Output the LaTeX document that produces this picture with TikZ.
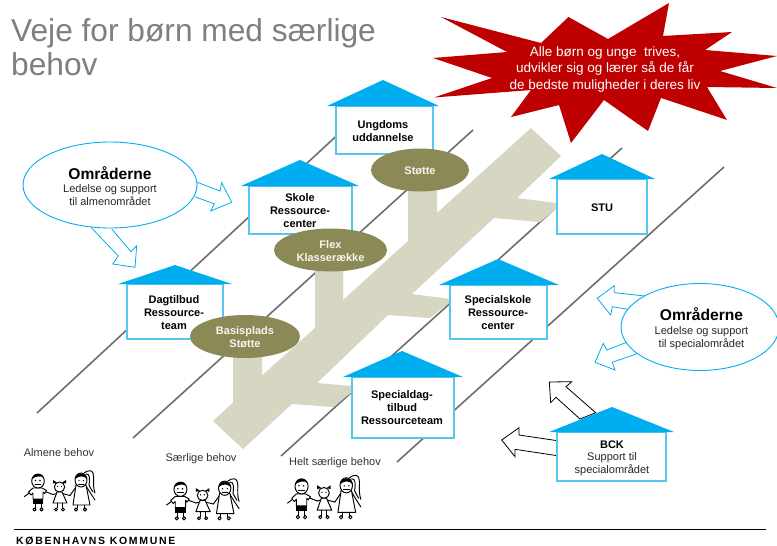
\documentclass[tikz,border=0pt]{standalone}
\usepackage{fontspec}
\setmainfont{Liberation Sans}
\usetikzlibrary{shapes.geometric}
\definecolor{roofblue}{HTML}{00AEEF}
\definecolor{wallblue}{HTML}{55C5F2}
\definecolor{olive}{HTML}{8B8A57}
\definecolor{trunk}{HTML}{D6D6C2}
\definecolor{road}{HTML}{6E6E6E}
\definecolor{starred}{HTML}{BE0000}
\definecolor{titlegray}{HTML}{7F7F7F}
\tikzset{
  road line/.style={draw=road,line width=1.6pt},
  roof/.style={fill=roofblue,draw=none},
  wall/.style={draw=wallblue,fill=white,line width=1.3pt},
  houselabel/.style={font=\bfseries\fontsize{11}{13}\selectfont,align=center,text=black,inner sep=0pt},
  oliveell/.style={ellipse,fill=olive,inner sep=0pt},
  olivelabel/.style={font=\bfseries\fontsize{11}{13}\selectfont,align=center,text=white!92!olive,inner sep=0pt},
  blockblue/.style={draw=roofblue,fill=white,line width=0.8pt,line join=miter},
  blockblack/.style={draw=black,fill=white,line width=0.8pt,line join=miter},
  area/.style={draw=roofblue,fill=white,line width=0.9pt},
  small/.style={font=\fontsize{11}{12.7}\selectfont,align=center,text=black!85,inner sep=0pt},
  big/.style={font=\bfseries\fontsize{15.6}{17}\selectfont,text=black,inner sep=0pt},
  behov/.style={font=\fontsize{11}{12}\selectfont,text=black!80,inner sep=0pt},
  kidline/.style={draw=black,line width=0.95pt,line cap=round,line join=round},
  kids/.pic={
    % boy
    \draw[kidline] (6,22.5) -- (0.5,26.5) (21,21.5) -- (29,24.5);
    \draw[kidline,fill=white] (9,18) -- (18,18) -- (22.5,20.5) -- (20.5,23.5) -- (19,22) -- (19,29) -- (9,29) -- (9,23) -- (7,25) -- (4.5,22) -- cycle;
    \draw[kidline,fill=white] (14,11) circle[x radius=6.3,y radius=7];
    \fill (8,9) .. controls (9,3) and (17,2) .. (20,8) .. controls (17,5.5) and (12,6) .. (8,9) -- cycle;
    \fill (11.5,10.5) circle (0.8) (16,10.5) circle (0.8);
    \draw[kidline] (11,14.5) -- (17,14.5);
    \fill (9,29) rectangle (19,34);
    \draw[kidline] (11.5,34) -- (11.5,38) (17,34) -- (17,38);
    \draw[kidline] (10.5,39.5) circle (1.6) (17.5,39.5) circle (1.6);
    % small girl
    \draw[kidline] (33,23.5) -- (29,24.5) (38,23.5) -- (46,25.5);
    \draw[kidline,fill=white] (33,22) -- (38,22) -- (43,33) -- (29,33) -- cycle;
    \draw[kidline,fill=white] (35.5,17) circle[x radius=5.2,y radius=5];
    \fill (29,10) -- (33,12.5) -- (29,13.5) -- cycle (42,10) -- (38,12.5) -- (42,13.5) -- cycle;
    \fill (33.5,16.5) circle (0.7) (37.5,16.5) circle (0.7);
    \draw[kidline] (33,33) -- (33,38) (38,33) -- (38,38);
    \draw[kidline] (32,39.5) circle (1.5) (39,39.5) circle (1.5);
    % big girl
    \draw[kidline] (60,3) .. controls (64,0) and (68,0) .. (69,3) .. controls (71,9) and (68,14) .. (71,23);
    \draw[kidline] (62,4) .. controls (66,3) and (66,10) .. (65,15) .. controls (66,18) and (68,20) .. (69,22);
    \draw[kidline] (52,17) -- (46,25.5) (62,16) -- (67,24) -- (71,30);
    \draw[kidline,fill=white] (52,15) -- (62,15) -- (66,35) -- (49,35) -- cycle;
    \draw[kidline,fill=white] (57,10) circle[x radius=6,y radius=7];
    \fill (51,9) .. controls (51,2) and (62,1) .. (63,9) .. controls (60,5.5) and (55,5.5) .. (51,9) -- cycle;
    \fill (55,10.5) circle (0.7) (59.5,10.5) circle (0.7);
    \draw[kidline] (54.5,14) -- (60,14);
    \draw[kidline] (53,35) -- (53,38) (60,35) -- (60,38);
    \draw[kidline] (52,39.5) circle (1.6) (61,39.5) circle (1.6);
  }
}
\begin{document}
\begin{tikzpicture}[x=1pt,y=-1pt]
\useasboundingbox (0,0) rectangle (777,546);
\fill[white] (0,0) rectangle (777,546);

% title
\node[anchor=north west,inner sep=0pt,text=titlegray,align=left,font=\fontsize{31.7}{33.5}\selectfont] (title) at (11,18.5) {Veje for børn med særlige\\behov};

% road lines
\coordinate (r1a) at (37,413);   \coordinate (r1b) at (345,128);
\coordinate (r2a) at (133,438);  \coordinate (r2b) at (473,130);
\coordinate (r3a) at (281,456);  \coordinate (r3b) at (622,148);
\coordinate (r4a) at (397,462);  \coordinate (r4b) at (724,167);
\draw[road line] (r1a) -- (r1b);
\draw[road line] (r2a) -- (r2b);
\draw[road line] (r3a) -- (r3b);
\draw[road line] (r4a) -- (r4b);

% trunk and branches
\fill[trunk] (213,421) -- (233,402.5) -- (233,340) -- (262,340) -- (262,375.5)
  -- (315,328) -- (315,260) -- (343,260) -- (343,300) -- (408,241) -- (408,180) -- (437,180) -- (437,213)
  -- (531,128) -- (561,156) -- (517,198) -- (557,203) -- (557,208) -- (540,222) -- (494,218)
  -- (412,294) -- (450,299) -- (450,302) -- (430,318) -- (388,315)
  -- (317,383) -- (352,386) -- (352,392) -- (333,407) -- (292,404) -- (243,449) -- cycle;

% star
\fill[starred] (441,17) -- (541,43) -- (568.5,17) -- (608,39) -- (669,3) -- (663,36) -- (732,32)
  -- (705,50) -- (777,56) -- (720,71) -- (777,88) -- (707,87) -- (727,120) -- (661,98) -- (648,131)
  -- (604,100) -- (571,143) -- (559,105) -- (511,117) -- (531,90) -- (434,97.5) -- (492,78)
  -- (433,58) -- (507,52) -- cycle;
\node[font=\fontsize{13.5}{16.4}\selectfont,text=white,align=center,inner sep=0pt] (goal) at (605,69.5)
  {Alle børn og unge\ \ trives,\\udvikler sig og lærer så de får\\de bedste muligheder i deres liv};

% houses
\draw[wall] (336,106) rectangle (433,154);
\fill[roof] (327,106) -- (383,80) -- (439,106) -- cycle;
\node[houselabel] (ungdoms) at (383,131.5) {Ungdoms\\uddannelse};

\draw[wall] (249,186) rectangle (352,234);
\fill[roof] (241,186) -- (300,160) -- (359,186) -- cycle;
\node[houselabel] (skole) at (300,210.7) {Skole\\Ressource-\\center};

\draw[wall] (127,284) rectangle (223,339);
\fill[roof] (118,284) -- (175,265) -- (232,284) -- cycle;
\node[houselabel] (dagtilbud) at (174,313) {Dagtilbud\\Ressource-\\team};

\draw[wall] (352,377) rectangle (454,438);
\fill[roof] (343,377) -- (402,351) -- (463,377) -- cycle;
\node[houselabel] (specialdag) at (402,408) {Specialdag-\\tilbud\\Ressourceteam};

\draw[wall] (450,285) rectangle (547,339);
\fill[roof] (439,285) -- (498,259) -- (559,285) -- cycle;
\node[houselabel] (specialskole) at (498,313) {Specialskole\\Ressource-\\center};

\draw[wall] (557,179) rectangle (647,234);
\fill[roof] (549,179) -- (602,154) -- (655,179) -- cycle;
\node[houselabel] (stu) at (602,208) {STU};

% black arrows from BCK
\draw[blockblack] (595.7,412.7) -- (566,386.7) -- (571.7,381.7) -- (549.3,382) -- (550.7,402.7) -- (556,397.3) -- (580,419) -- cycle;
\draw[blockblack] (557.3,440.7) -- (519,435) -- (519,427.7) -- (501.7,440) -- (515,456.7) -- (515,449.3) -- (557.3,455.7) -- cycle;
\draw[wall] (557,432) rectangle (666,481);
\fill[roof] (549,432) -- (612,407) -- (674,432) -- cycle;
\node[inner sep=0pt,font=\bfseries\fontsize{11}{12}\selectfont,text=black] (bck) at (612,444.5) {BCK};
\node[small] (bcktext) at (612,464.5) {Support til\\specialområdet};

% olive ellipses
\node[oliveell,minimum width=98pt,minimum height=43pt] (stotte) at (420,170) {};
\node[olivelabel,yshift=-1pt] at (stotte) {Støtte};
\node[oliveell,minimum width=113pt,minimum height=43pt] (flex) at (330.5,250) {};
\node[olivelabel,yshift=-1pt] at (flex) {Flex\\Klasserække};
\node[oliveell,minimum width=110pt,minimum height=43pt] (basis) at (245,336.5) {};
\node[olivelabel,yshift=-1pt] at (basis) {Basisplads\\Støtte};

% left area arrows + ellipse
\draw[blockblue] (197.3,182.3) -- (220,191) -- (221.7,182.7) -- (231.7,202.3) -- (210.7,211) -- (214.3,204) -- (195,196.7);
\draw[blockblue] (91,227.3) -- (118.3,256) -- (112.7,264) -- (135,267.3) -- (136.7,245.7) -- (131,251.7) -- (111.7,229);
\node[area,ellipse,minimum width=174pt,minimum height=86pt,inner sep=0pt] (omr1) at (110,185) {};
\node[big] (omr1t) at (110,173) {Områderne};
\node[small] (omr1s) at (110,195) {Ledelse og support\\til almenområdet};

% right area arrows + ellipse
\draw[blockblue] (645,296) -- (614.3,292.7) -- (614.3,285.7) -- (597.3,298.3) -- (610.7,315) -- (612.3,306.7) -- (628.3,309.3);
\draw[blockblue] (626.7,342.3) -- (606.7,350) -- (603.3,343.3) -- (595,362.3) -- (615,370) -- (612.3,362.3) -- (638.3,353.3);
\node[area,ellipse,minimum width=158pt,minimum height=87pt,inner sep=0pt] (omr2) at (700,327) {};
\node[big] (omr2t) at (701.5,314) {Områderne};
\node[small] (omr2s) at (701.5,338) {Ledelse og support\\til specialområdet};

% behov labels and children
\node[behov] (b1) at (59,453) {Almene behov};
\node[behov] (b2) at (201,459) {Særlige behov};
\node[behov] (b3) at (335,463) {Helt særlige behov};
\pic[scale=1] at (24,470) {kids};
\pic[xscale=1.03,yscale=1.02] at (166,478) {kids};
\pic[xscale=1.04,yscale=1.08] at (287,474.5) {kids};

% footer
\draw[black,line width=0.8pt] (14,529.5) -- (766,529.5);
\node[anchor=base west,inner sep=0pt,font=\bfseries\fontsize{10.5}{11}\selectfont\addfontfeatures{LetterSpace=16},text=black] (footer) at (16,544.8) {KØBENHAVNS KOMMUNE};
\end{tikzpicture}
\end{document}
